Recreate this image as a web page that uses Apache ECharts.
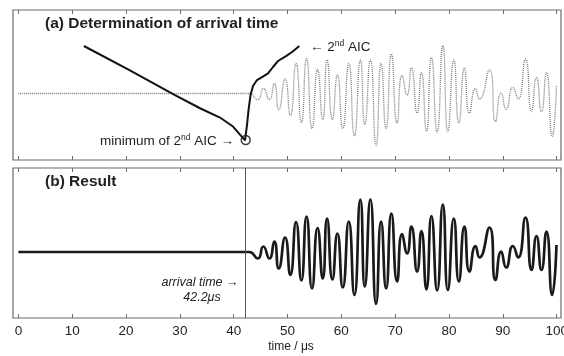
<!DOCTYPE html>
<html>
<head>
<meta charset="utf-8">
<script src="https://cdn.jsdelivr.net/npm/echarts@6/dist/echarts.min.js"></script>
<style>
html,body{margin:0;padding:0;background:#fff;}
#chart{width:564px;height:356px;}
</style>
</head>
<body>
<div id="chart"></div>
<script>
// ---- data ----
const xTicks = [0, 10, 20, 30, 40, 50, 60, 70, 80, 90, 100];

// time (µs) of waveform samples (extrema of the signal)
const waveTime = [0, 42.2, 42.9, 44.46, 45.50, 46.62, 47.55, 48.36, 49.54, 50.52, 51.58, 52.57, 53.53, 54.55, 55.58, 56.54, 57.34, 58.33, 59.26, 60.26, 61.38, 62.42, 63.53, 64.35, 65.39, 66.45, 67.38, 68.31, 69.29, 70.35, 71.28, 72.21, 73.01, 74.07, 74.87, 75.80, 76.73, 77.79, 78.85, 79.78, 80.89, 81.82, 82.86, 83.79, 84.91, 85.65, 87.51, 88.62, 89.68, 90.61, 91.86, 92.84, 94.20, 95.32, 96.25, 97.17, 98.10, 99.16, 99.96];

// (b) result signal amplitude
const resultAmp = [0, 0, 0, -0.13, 0.11, -0.13, 0.21, -0.33, 0.29, -0.46, 0.60, -0.57, 0.71, -0.73, 0.48, -0.53, 0.67, -0.55, 0.37, -0.71, 0.61, -0.86, 1.05, -0.69, 1.05, -1.04, 0.61, -0.73, 0.77, -0.59, 0.36, -0.03, 0.51, -0.39, 0.42, -0.75, 0.72, -0.77, 0.95, -0.76, 0.67, -0.59, 0.51, -0.39, 0.12, -0.11, 0.49, -0.56, 0.01, -0.31, 0.12, -0.11, 0.69, -0.36, 0.32, -0.36, 0.41, -0.86, 0.14];

// (a) raw signal amplitude (gray dotted)
const rawAmp = [0, 0, 0, -0.12, 0.10, -0.12, 0.20, -0.32, 0.29, -0.44, 0.60, -0.58, 0.70, -0.70, 0.48, -0.52, 0.67, -0.52, 0.37, -0.70, 0.60, -0.85, 0.67, -0.62, 0.67, -1.04, 0.60, -0.70, 0.79, -0.59, 0.36, -0.03, 0.51, -0.39, 0.42, -0.75, 0.72, -0.77, 0.96, -0.76, 0.67, -0.59, 0.51, -0.39, 0.10, -0.11, 0.47, -0.56, 0.01, -0.31, 0.12, -0.11, 0.69, -0.36, 0.32, -0.36, 0.42, -0.86, 0.17];

// 2nd AIC curve (arbitrary units)
const aicTime = [12.17, 20.72, 29.09, 33.74, 37.45, 39.87, 42.10, 42.47, 42.75, 43.12, 43.59, 44.33, 45.26, 46.38, 47.30, 48.23, 49.72, 50.84, 52.19];
const aicValue = [76.0, 59.7, 43.3, 34.5, 28.3, 22.3, 13.1, 23.3, 33.3, 43.3, 49.3, 53.3, 55.3, 57.7, 62.0, 66.0, 69.3, 72.0, 76.0];
const aicMin = [42.23, 13.3];
const arrivalTime = 42.2;

// ---- chart ----
const FONT = '"Liberation Sans", Arial, Helvetica, sans-serif';
const pairs = (xs, ys) => xs.map((x, i) => [x, ys[i]]);
const AX = '#6a6a6a';

function xAx(gridIndex, position, showLabels) {
  return {
    type: 'value', gridIndex, position, min: -1, max: 100.8,
    splitLine: {show: false},
    axisLine: {show: false, onZero: false},
    axisTick: {show: true, inside: true, length: 4, lineStyle: {color: AX, width: 1}, customValues: xTicks},
    axisLabel: showLabels ? {show: true, customValues: xTicks, fontFamily: FONT, fontSize: 13.5, color: '#222', margin: 6} : {show: false},
    name: showLabels ? 'time / μs' : '',
    nameLocation: 'middle', nameGap: 23,
    nameTextStyle: {fontFamily: FONT, fontSize: 12, color: '#222', padding: [0, 0, 0, 8]}
  };
}
function yAx(gridIndex, min, max) {
  return {type: 'value', gridIndex, min, max, show: false, splitLine: {show: false}};
}

const SUPRICH = {
  t: {fontFamily: FONT, fontSize: 13.5, fill: '#222', lineHeight: 16, verticalAlign: 'middle'},
  sup: {fontFamily: FONT, fontSize: 8.5, fill: '#222', lineHeight: 6, verticalAlign: 'top'}
};

const chart = echarts.init(document.getElementById('chart'), null, {renderer: 'canvas'});
chart.setOption({
  animation: false,
  backgroundColor: '#fff',
  grid: [
    {left: 13, right: 3, top: 10, height: 150, show: true, borderColor: AX, borderWidth: 1.2, backgroundColor: 'transparent', outerBoundsMode: 'none', containLabel: false},
    {left: 13, right: 3, top: 168, height: 150, show: true, borderColor: AX, borderWidth: 1.2, backgroundColor: 'transparent', outerBoundsMode: 'none', containLabel: false}
  ],
  xAxis: [xAx(0, 'bottom', false), xAx(0, 'top', false), xAx(1, 'bottom', true), xAx(1, 'top', false)],
  yAxis: [yAx(0, -1.33, 1.67), yAx(0, 0, 100), yAx(1, -1.32, 1.68)],
  series: [
    {
      type: 'line', xAxisIndex: 0, yAxisIndex: 0, data: pairs(waveTime, rawAmp),
      smooth: 0.6, symbol: 'none', z: 2,
      lineStyle: {color: '#7a7a7a', width: 1.3, type: [1, 1]}
    },
    {
      type: 'line', xAxisIndex: 0, yAxisIndex: 1, data: pairs(aicTime, aicValue),
      smooth: false, symbol: 'none', z: 3,
      lineStyle: {color: '#111', width: 2}
    },
    {
      type: 'scatter', xAxisIndex: 0, yAxisIndex: 1, data: [aicMin],
      symbol: 'circle', symbolSize: 9, z: 4,
      itemStyle: {color: 'rgba(255,255,255,0)', borderColor: '#111', borderWidth: 1.5}
    },
    {
      type: 'line', xAxisIndex: 2, yAxisIndex: 2, data: pairs(waveTime, resultAmp),
      smooth: 0.6, symbol: 'none', z: 3,
      lineStyle: {color: '#1a1a1a', width: 2.7},
      markLine: {
        silent: true, symbol: ['none', 'none'], label: {show: false},
        lineStyle: {color: '#555', width: 1, type: 'solid'},
        data: [{xAxis: arrivalTime}]
      }
    }
  ],
  graphic: [
    {type: 'text', x: 45, y: 24, style: {text: '(a) Determination of arrival time', fontFamily: FONT, fontSize: 15.5, fontWeight: 'bold', fill: '#222', align: 'left', verticalAlign: 'middle'}},
    {type: 'text', x: 45, y: 182, style: {text: '(b) Result', fontFamily: FONT, fontSize: 15.5, fontWeight: 'bold', fill: '#222', align: 'left', verticalAlign: 'middle'}},
    {type: 'text', x: 310, y: 47, style: {text: '{t|← 2}{sup|nd}{t| AIC}', fontFamily: FONT, fontSize: 13.5, fill: '#222', align: 'left', verticalAlign: 'middle', rich: SUPRICH}},
    {type: 'text', x: 234, y: 141, style: {text: '{t|minimum of 2}{sup|nd}{t| AIC →}', fontFamily: FONT, fontSize: 13.5, fill: '#222', align: 'right', verticalAlign: 'middle', rich: SUPRICH}},
    {type: 'text', x: 200, y: 283, style: {text: 'arrival time →', fontFamily: FONT, fontSize: 12.5, fontStyle: 'italic', fill: '#222', align: 'center', verticalAlign: 'middle'}},
    {type: 'text', x: 202, y: 298, style: {text: '42.2μs', fontFamily: FONT, fontSize: 12.5, fontStyle: 'italic', fill: '#222', align: 'center', verticalAlign: 'middle'}}
  ]
});
</script>
</body>
</html>
